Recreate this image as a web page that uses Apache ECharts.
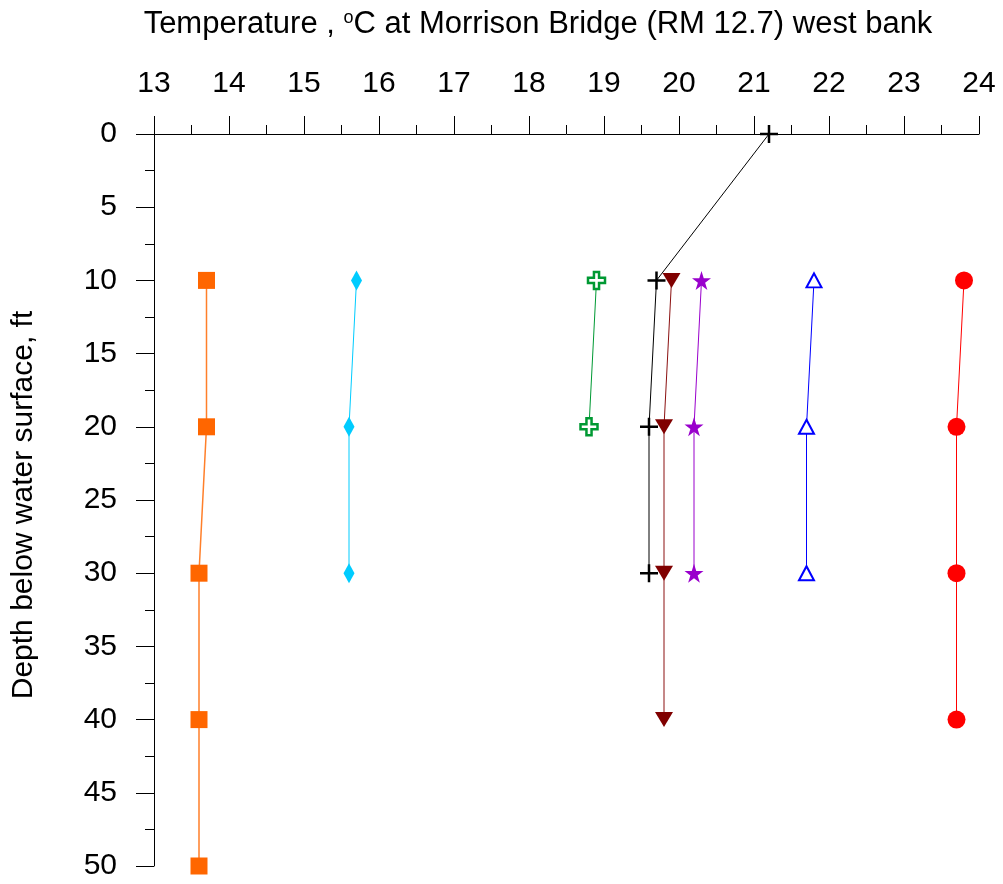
<!DOCTYPE html>
<html>
<head>
<meta charset="utf-8">
<script src="https://cdn.jsdelivr.net/npm/echarts@6/dist/echarts.min.js"></script>
<style>
  html, body { margin: 0; padding: 0; background: #ffffff; }
  #chart { width: 1003px; height: 884px; }
</style>
</head>
<body>
<div id="chart"></div>
<script>
// Temperature profiles (degC) versus depth below the water surface (ft)
const depthTicks = [0, 5, 10, 15, 20, 25, 30, 35, 40, 45, 50];
const tempTicks = [13, 14, 15, 16, 17, 18, 19, 20, 21, 22, 23, 24];

const orangeDepth = [10, 20, 30, 40, 50];
const orangeTemp = [13.7, 13.7, 13.6, 13.6, 13.6];

const cyanDepth = [10, 20, 30];
const cyanTemp = [15.7, 15.6, 15.6];

const greenDepth = [10, 20];
const greenTemp = [18.9, 18.8];

const blackDepth = [0, 10, 20, 30];
const blackTemp = [21.2, 19.7, 19.6, 19.6];

const maroonDepth = [10, 20, 30, 40];
const maroonTemp = [19.9, 19.8, 19.8, 19.8];

const purpleDepth = [10, 20, 30];
const purpleTemp = [20.3, 20.2, 20.2];

const blueDepth = [10, 20, 30];
const blueTemp = [21.8, 21.7, 21.7];

const redDepth = [10, 20, 30, 40];
const redTemp = [23.8, 23.7, 23.7, 23.7];

const FONT = '"Liberation Sans", Arial, sans-serif';

// custom marker outlines
const PLUS_PATH = 'path://M0,5L10,5M5,0L5,10';
const CROSS_PATH = 'path://M3.5,0L6.5,0L6.5,3.5L10,3.5L10,6.5L6.5,6.5L6.5,10L3.5,10L3.5,6.5L0,6.5L0,3.5L3.5,3.5Z';
const STAR_PATH = 'path://M50,0L61.2,34.5L97.6,34.5L68.2,55.9L79.4,90.5L50,69.1L20.6,90.5L31.8,55.9L2.4,34.5L38.8,34.5Z';

function pairs(temps, depths) {
  return temps.map((t, i) => [t, depths[i]]);
}

function profile(temps, depths, opts) {
  return Object.assign({
    type: 'line',
    data: pairs(temps, depths),
    clip: false,
    animation: false,
    silent: true
  }, opts);
}

const chart = echarts.init(document.getElementById('chart'), null, { renderer: 'canvas' });

chart.setOption({
  backgroundColor: '#ffffff',
  animation: false,
  grid: { left: 154, right: 24, top: 134, bottom: 18, containLabel: false },
  xAxis: {
    type: 'value',
    position: 'top',
    min: tempTicks[0],
    max: tempTicks[tempTicks.length - 1],
    interval: 1,
    axisLine: { show: true, lineStyle: { color: '#000', width: 1 } },
    axisTick: { show: true, length: 18, lineStyle: { color: '#000', width: 1 } },
    minorTick: { show: true, splitNumber: 2, length: 9, lineStyle: { color: '#000', width: 1 } },
    splitLine: { show: false },
    axisLabel: {
      color: '#000', fontSize: 30, fontFamily: FONT, margin: 35,
      formatter: v => (tempTicks.indexOf(v) >= 0 ? String(v) : '')
    }
  },
  yAxis: {
    type: 'value',
    inverse: true,
    min: depthTicks[0],
    max: depthTicks[depthTicks.length - 1],
    interval: 5,
    axisLine: { show: true, lineStyle: { color: '#000', width: 1 } },
    axisTick: { show: true, length: 18, lineStyle: { color: '#000', width: 1 } },
    minorTick: { show: true, splitNumber: 2, length: 9, lineStyle: { color: '#000', width: 1 } },
    splitLine: { show: false },
    axisLabel: {
      color: '#000', fontSize: 30, fontFamily: FONT, margin: 37,
      formatter: v => (depthTicks.indexOf(v) >= 0 ? String(v) : '')
    }
  },
  graphic: [
    {
      type: 'text',
      x: 538,
      y: 24,
      style: {
        text: 'Temperature , {sup|o}C at Morrison Bridge (RM 12.7) west bank',
        font: '31px ' + FONT,
        fill: '#000',
        align: 'center',
        verticalAlign: 'middle',
        rich: {
          sup: { fontSize: 18, fontFamily: FONT, fill: '#000', padding: [0, 0, 12, 0] }
        }
      }
    },
    {
      type: 'text',
      x: 24,
      y: 505,
      rotation: Math.PI / 2,
      style: {
        text: 'Depth below water surface, ft',
        font: '30px ' + FONT,
        fill: '#000',
        align: 'center',
        verticalAlign: 'middle'
      }
    }
  ],
  series: [
    profile(orangeTemp, orangeDepth, {
      symbol: 'rect', symbolSize: 17,
      itemStyle: { color: '#FF6600' },
      lineStyle: { color: '#FF7F2A', width: 1.5 }
    }),
    profile(cyanTemp, cyanDepth, {
      symbol: 'diamond', symbolSize: [11, 20],
      itemStyle: { color: '#00CCFF' },
      lineStyle: { color: '#00CCFF', width: 1 }
    }),
    profile(greenTemp, greenDepth, {
      symbol: CROSS_PATH, symbolSize: 17,
      itemStyle: { color: '#ffffff', borderColor: '#009933', borderWidth: 2.5 },
      lineStyle: { color: '#009933', width: 1 }
    }),
    profile(blackTemp, blackDepth, {
      symbol: PLUS_PATH, symbolSize: 18,
      itemStyle: { color: 'none', borderColor: '#000', borderWidth: 2.5 },
      lineStyle: { color: '#000', width: 1 }
    }),
    profile(maroonTemp, maroonDepth, {
      symbol: 'triangle', symbolSize: [18, 15], symbolRotate: 180,
      itemStyle: { color: '#800000' },
      lineStyle: { color: '#8B1010', width: 1 }
    }),
    profile(purpleTemp, purpleDepth, {
      symbol: STAR_PATH, symbolSize: 19,
      itemStyle: { color: '#9900CC' },
      lineStyle: { color: '#9900CC', width: 1 }
    }),
    profile(blueTemp, blueDepth, {
      symbol: 'triangle', symbolSize: [15, 14],
      itemStyle: { color: '#ffffff', borderColor: '#0000FF', borderWidth: 2 },
      lineStyle: { color: '#0000FF', width: 1 }
    }),
    profile(redTemp, redDepth, {
      symbol: 'circle', symbolSize: 18,
      itemStyle: { color: '#FF0000' },
      lineStyle: { color: '#FF0000', width: 1 }
    })
  ]
});
</script>
</body>
</html>
